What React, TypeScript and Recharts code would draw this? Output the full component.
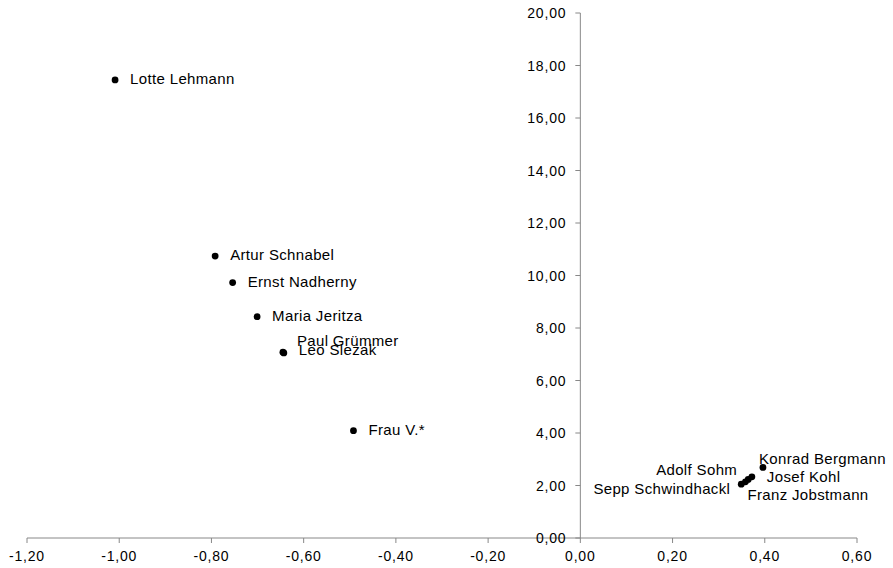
import {
  ScatterChart,
  Scatter,
  XAxis,
  YAxis,
  ReferenceLine,
  ReferenceDot,
} from 'recharts'

const NAMES = [
  'Lotte Lehmann',
  'Artur Schnabel',
  'Ernst Nadherny',
  'Maria Jeritza',
  'Paul Grümmer',
  'Leo Slezak',
  'Frau V.*',
  'Sepp Schwindhackl',
  'Franz Jobstmann',
  'Adolf Sohm',
  'Josef Kohl',
  'Konrad Bergmann',
]
const X_VALUES = [-1.009, -0.792, -0.754, -0.701, -0.645, -0.643, -0.492, 0.349, 0.358, 0.364, 0.372, 0.396]
const Y_VALUES = [17.45, 10.74, 9.73, 8.43, 7.08, 7.05, 4.09, 2.05, 2.14, 2.23, 2.33, 2.69]

const X_TICKS = [-1.2, -1.0, -0.8, -0.6, -0.4, -0.2, 0, 0.2, 0.4, 0.6]
const Y_TICKS = [0, 2, 4, 6, 8, 10, 12, 14, 16, 18, 20]

// label placement tweaks (pixel offsets from the dot)
const LABEL_POS: Record<string, { left?: boolean; dx: number; dy: number }> = {
  'Paul Grümmer': { dx: 14, dy: -10 },
  'Leo Slezak': { dx: 15, dy: -2 },
  'Sepp Schwindhackl': { left: true, dx: -11, dy: 6 },
  'Franz Jobstmann': { dx: 2, dy: 14 },
  'Adolf Sohm': { left: true, dx: -11, dy: -8 },
  'Josef Kohl': { dx: 15, dy: 1 },
  'Konrad Bergmann': { dx: -4, dy: -7 },
}

const FONT = '"Liberation Sans", Arial, sans-serif'
const AXIS = '#888888'

const data = NAMES.map((name, i) => ({ name, x: X_VALUES[i], y: Y_VALUES[i] }))

const fmt = (v: number) => v.toFixed(2).replace('.', ',')

function Dot(props: any) {
  const { cx, cy, payload } = props
  const pos = LABEL_POS[payload.name] ?? { dx: 15, dy: 0 }
  return (
    <g>
      <circle cx={cx} cy={cy} r={3.4} fill="#000" />
      <text
        x={cx + pos.dx}
        y={cy + pos.dy + 4}
        textAnchor={pos.left ? 'end' : 'start'}
        fontFamily={FONT}
        fontSize={15}
        fill="#000"
        style={{ letterSpacing: 0.35 }}
      >
        {payload.name}
      </text>
    </g>
  )
}

function YTick(props: any) {
  const { cx, cy, label } = props
  return (
    <g>
      <line x1={cx - 5} y1={cy} x2={cx} y2={cy} stroke={AXIS} />
      <text
        x={cx - 14}
        y={cy + 5}
        textAnchor="end"
        fontFamily={FONT}
        fontSize={14}
        fill="#000"
        style={{ letterSpacing: 0.8 }}
      >
        {label}
      </text>
    </g>
  )
}

export default function App() {
  return (
    <div style={{ position: 'absolute', left: 0, top: 0, background: '#fff' }}>
      <ScatterChart width={893} height={568} margin={{ top: 13, right: 36, bottom: 0, left: 27 }}>
        <XAxis
          type="number"
          dataKey="x"
          domain={[-1.2, 0.6]}
          ticks={X_TICKS}
          interval={0}
          tickFormatter={fmt}
          height={30}
          tickSize={5}
          tickMargin={8}
          stroke={AXIS}
          tick={{ fill: '#000', fontSize: 14, fontFamily: FONT, style: { letterSpacing: 0.8 } }}
        />
        <YAxis type="number" dataKey="y" domain={[0, 20]} ticks={Y_TICKS} hide />
        <ReferenceLine x={0} stroke={AXIS} />
        {Y_TICKS.map(t => (
          <ReferenceDot
            key={t}
            x={0}
            y={t}
            shape={(p: any) => <YTick {...p} label={fmt(t)} />}
          />
        ))}
        <Scatter data={data} shape={<Dot />} isAnimationActive={false} />
      </ScatterChart>
    </div>
  )
}
